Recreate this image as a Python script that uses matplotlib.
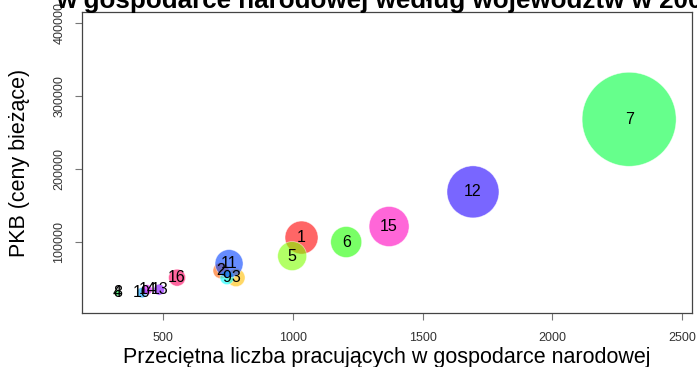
import matplotlib
matplotlib.use("Agg")
import matplotlib.pyplot as plt
import colorsys

plt.rcParams['font.family'] = ['Liberation Sans', 'DejaVu Sans']

# numery województw
woj = list(range(1, 17))
# przeciętna liczba pracujących (tys.)
pracujacy = [1034, 724, 782, 324, 998, 1206, 2295, 326,
             747, 420, 755, 1694, 486, 440, 1371, 555]
# PKB (ceny bieżące, mln zł)
pkb = [106400, 61200, 51600, 31000, 81100, 100300, 268000, 30800,
       51600, 31100, 70800, 168800, 35200, 35200, 121500, 51600]
# trzecia zmienna - wielkość kół
wielkosc = [165, 80, 90, 30, 145, 155, 470, 30,
            70, 52, 140, 260, 55, 50, 200, 85]

dpi = 100
fig = plt.figure(figsize=(6.97, 3.67), dpi=dpi)
ax = fig.add_axes([82/697, 1 - 313/367, 610/697, 301/367])

# kolory jak rainbow(16) w R, półprzezroczyste
kolory = [colorsys.hsv_to_rgb(i/16, 1, 1) for i in range(16)]
max_r = 47  # promień największego koła w pikselach
rozm = [(2 * w / max(wielkosc) * max_r * 72 / dpi) ** 2 for w in wielkosc]

ax.scatter(pracujacy, pkb, s=rozm, c=kolory, alpha=0.6,
           edgecolors='white', linewidths=0.5, zorder=2)
for n, x, y in zip(woj, pracujacy, pkb):
    ax.text(x, y, str(n), ha='center', va='center', fontsize=11.5,
            color='black', zorder=3)

ax.set_xlim(189, 2537)
ax.set_ylim(3300, 414600)
ax.set_xticks([500, 1000, 1500, 2000, 2500])
ax.set_yticks([100000, 200000, 300000, 400000])
ax.tick_params(axis='both', length=5, width=0.8, color='#777777',
               labelsize=9, labelcolor='#333333', pad=7)
ax.tick_params(axis='x', pad=9)
ax.tick_params(axis='y', labelrotation=90)
for lab in ax.get_yticklabels():
    lab.set_verticalalignment('center')
for sp in ax.spines.values():
    sp.set_color('#444444')
    sp.set_linewidth(0.9)

ax.set_xlabel('Przeciętna liczba pracujących w gospodarce narodowej',
              fontsize=15.5, labelpad=2)
ax.set_ylabel('PKB (ceny bieżące)', fontsize=15.5, labelpad=17)

fig.text(387/697, 1 - 8/367,
         'w gospodarce narodowej według województw w 2006',
         ha='center', va='baseline', fontsize=18.7, fontweight='bold')

fig.savefig('out.png', dpi=dpi)
